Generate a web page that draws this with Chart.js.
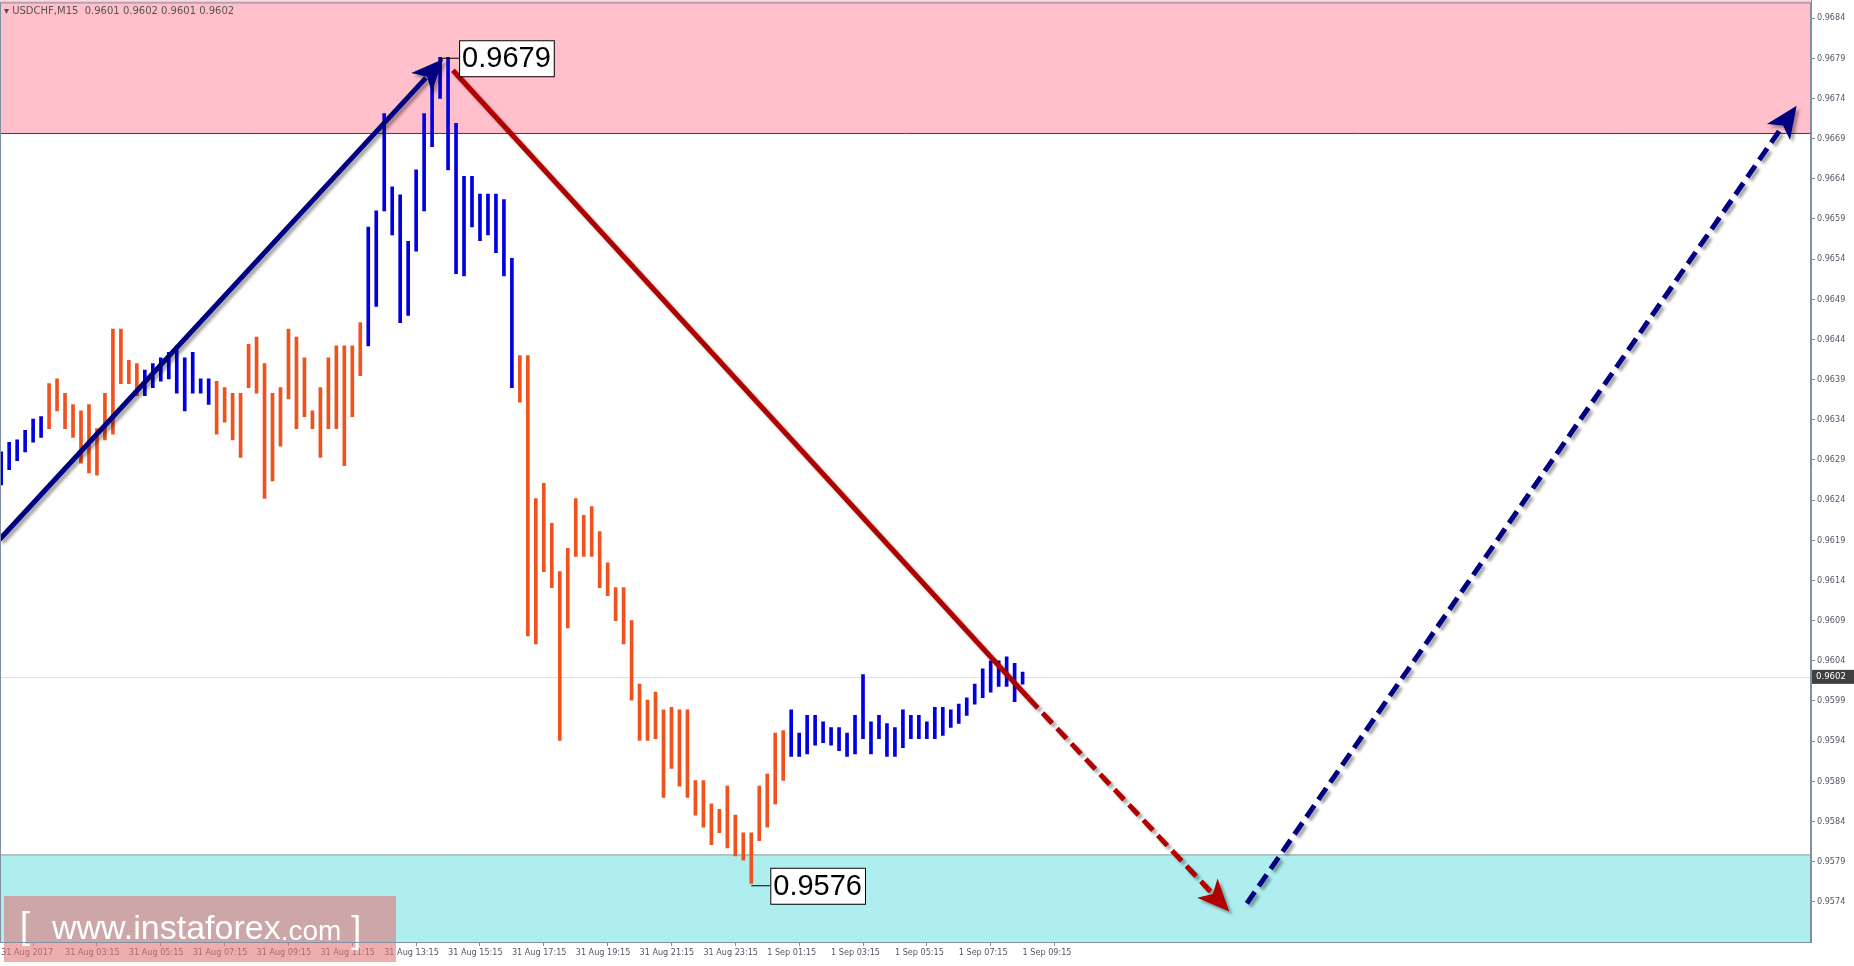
<!DOCTYPE html>
<html>
<head>
<meta charset="utf-8">
<script src="https://cdn.jsdelivr.net/npm/chart.js@4"></script>
<style>
  html, body { margin: 0; padding: 0; background: #fff; overflow: hidden; }
  #wrap { width: 1854px; height: 966px; overflow: hidden; position: relative; }
  #chart { position: absolute; left: 0; top: -7px; }
</style>
</head>
<body>
<div id="wrap"><canvas id="chart" width="1854" height="973"></canvas></div>
<script>
// USDCHF M15 bars, 31 Aug 01:15 onward
const highs = [
  0.96300,0.96312,0.96315,0.96327,0.96341,0.96344,0.96385,0.96391,0.96373,0.96359,
  0.96351,0.96359,0.96329,0.96373,0.96453,0.96453,0.96414,0.96410,0.96402,0.96410,
  0.96417,0.96424,0.96432,0.96417,0.96424,0.96391,0.96391,0.96388,0.96380,0.96373,
  0.96373,0.96434,0.96443,0.96410,0.96373,0.96380,0.96453,0.96443,0.96417,0.96351,
  0.96380,0.96417,0.96432,0.96432,0.96432,0.96461,0.96580,0.96600,0.96721,0.96630,
  0.96620,0.96562,0.96651,0.96721,0.96760,0.96791,0.96791,0.96709,0.96643,0.96643,
  0.96621,0.96621,0.96621,0.96614,0.96541,0.96420,0.96420,0.96242,0.96261,0.96211,
  0.96151,0.96180,0.96242,0.96221,0.96232,0.96201,0.96162,0.96131,0.96131,0.96090,
  0.96011,0.95991,0.96001,0.95979,0.95982,0.95979,0.95979,0.95891,0.95891,0.95862,
  0.95855,0.95884,0.95848,0.95826,0.95826,0.95884,0.95899,0.95950,0.95953,0.95979,
  0.95950,0.95972,0.95972,0.95964,0.95957,0.95957,0.95950,0.95972,0.96023,0.95964,
  0.95972,0.95962,0.95957,0.95979,0.95972,0.95972,0.95964,0.95982,0.95982,0.95979,
  0.95986,0.95994,0.96011,0.96030,0.96040,0.96040,0.96045,0.96037,0.96026
];
const lows = [
  0.96259,0.96278,0.96289,0.96300,0.96312,0.96318,0.96329,0.96351,0.96329,0.96318,
  0.96286,0.96274,0.96271,0.96315,0.96322,0.96385,0.96385,0.96370,0.96370,0.96380,
  0.96388,0.96391,0.96373,0.96351,0.96373,0.96373,0.96359,0.96322,0.96337,0.96315,
  0.96293,0.96380,0.96373,0.96242,0.96264,0.96307,0.96366,0.96329,0.96344,0.96329,
  0.96293,0.96329,0.96329,0.96283,0.96344,0.96395,0.96432,0.96481,0.96600,0.96570,
  0.96461,0.96470,0.96550,0.96600,0.96680,0.96740,0.96651,0.96522,0.96519,0.96580,
  0.96563,0.96570,0.96548,0.96519,0.96380,0.96362,0.96071,0.96061,0.96151,0.96131,
  0.95941,0.96081,0.96170,0.96170,0.96170,0.96131,0.96121,0.96090,0.96061,0.95991,
  0.95941,0.95941,0.95943,0.95870,0.95906,0.95884,0.95870,0.95848,0.95833,0.95811,
  0.95826,0.95807,0.95797,0.95792,0.95763,0.95816,0.95833,0.95862,0.95891,0.95921,
  0.95921,0.95924,0.95935,0.95938,0.95935,0.95928,0.95921,0.95924,0.95943,0.95924,
  0.95943,0.95921,0.95921,0.95932,0.95943,0.95943,0.95943,0.95943,0.95947,0.95957,
  0.95962,0.95972,0.95986,0.95994,0.96001,0.96008,0.96008,0.95989,0.96011
];
// wave colouring: [first bar, last bar] of up-waves drawn blue
const upWaves = [[0, 5], [18, 26], [46, 64], [99, 128]];

const xLabels = ['31 Aug 2017','31 Aug 03:15','31 Aug 05:15','31 Aug 07:15','31 Aug 09:15',
  '31 Aug 11:15','31 Aug 13:15','31 Aug 15:15','31 Aug 17:15','31 Aug 19:15','31 Aug 21:15',
  '31 Aug 23:15','1 Sep 01:15','1 Sep 03:15','1 Sep 05:15','1 Sep 07:15','1 Sep 09:15'];
const yTicks = [0.9574,0.9579,0.9584,0.9589,0.9594,0.9599,0.9604,0.9609,0.9614,0.9619,
  0.9624,0.9629,0.9634,0.9639,0.9644,0.9649,0.9654,0.9659,0.9664,0.9669,0.9674,0.9679,0.9684];

const sellZone = [0.96697, 0.96900];
const buyZone = [0.95600, 0.95799];
const lastPrice = 0.9602;
const peak = { bar: 55, price: 0.9679, text: '0.9679' };
const trough = { bar: 94, price: 0.9576, text: '0.9576' };
// wave arrows: [bar, price] endpoints
const waveUp = [[-0.2, 0.96191], [55.4, 0.96789]];
const waveDown = [[56.6, 0.96775], [128.7, 0.95994]];
const waveDownNext = [[128.7, 0.95994], [153.9, 0.95728]];
const waveUpNext = [[156.1, 0.95738], [225, 0.96731]];

const bars = highs.map((h, i) => ({ x: i, y: [lows[i], h] }));
const barColors = highs.map((h, i) =>
  upWaves.some(w => i >= w[0] && i <= w[1]) ? '#0000E0' : '#F0521E');

const overlay = {
  id: 'overlay',
  beforeDatasetsDraw(chart) {
    const { ctx, chartArea: a, scales: { x, y } } = chart;
    ctx.save();
    ctx.fillStyle = '#FFC0CB';
    let yb = y.getPixelForValue(sellZone[0]);
    ctx.fillRect(a.left, a.top, a.width, yb - a.top);
    ctx.strokeStyle = '#C00000'; ctx.lineWidth = 1;
    ctx.beginPath(); ctx.moveTo(a.left, yb + 0.5); ctx.lineTo(a.right, yb + 0.5); ctx.stroke();
    ctx.fillStyle = '#AFEEEE';
    let yt = y.getPixelForValue(buyZone[1]);
    ctx.fillRect(a.left, yt, a.width, a.bottom - yt);
    ctx.strokeStyle = '#999';
    ctx.beginPath(); ctx.moveTo(a.left, yt + 0.5); ctx.lineTo(a.right, yt + 0.5); ctx.stroke();
    let yp = Math.round(y.getPixelForValue(lastPrice)) + 0.5;
    ctx.strokeStyle = '#E0E0E0';
    ctx.beginPath(); ctx.moveTo(a.left, yp); ctx.lineTo(a.right, yp); ctx.stroke();
    ctx.restore();
  },
  afterDatasetsDraw(chart) {
    const { ctx, chartArea: a, scales: { x, y } } = chart;
    const P = p => [x.getPixelForValue(p[0]), y.getPixelForValue(p[1])];
    ctx.save();
    function arrow(seg, color, dashed, head) {
      const [x0, y0] = P(seg[0]), [x1, y1] = P(seg[1]);
      const ang = Math.atan2(y1 - y0, x1 - x0);
      const hl = 32, hw = 14;
      const ex = head ? x1 - Math.cos(ang) * hl * 0.8 : x1;
      const ey = head ? y1 - Math.sin(ang) * hl * 0.8 : y1;
      ctx.shadowColor = 'rgba(0,0,0,0.35)'; ctx.shadowOffsetX = 3; ctx.shadowOffsetY = 3; ctx.shadowBlur = 3;
      ctx.strokeStyle = color; ctx.lineWidth = 5; ctx.lineCap = 'butt';
      ctx.setLineDash(dashed ? [14, 7] : []);
      ctx.beginPath(); ctx.moveTo(x0, y0); ctx.lineTo(ex, ey); ctx.stroke();
      ctx.setLineDash([]);
      if (head) {
        ctx.fillStyle = color;
        ctx.beginPath();
        ctx.moveTo(x1, y1);
        ctx.lineTo(x1 - Math.cos(ang) * hl - Math.sin(ang) * hw, y1 - Math.sin(ang) * hl + Math.cos(ang) * hw);
        ctx.lineTo(x1 - Math.cos(ang) * hl * 0.75, y1 - Math.sin(ang) * hl * 0.75);
        ctx.lineTo(x1 - Math.cos(ang) * hl + Math.sin(ang) * hw, y1 - Math.sin(ang) * hl - Math.cos(ang) * hw);
        ctx.closePath(); ctx.fill();
      }
      ctx.shadowColor = 'transparent';
    }
    arrow(waveUp, '#000080', false, true);
    arrow(waveDown, '#B00000', false, false);
    arrow(waveDownNext, '#B00000', true, true);
    arrow(waveUpNext, '#000080', true, true);

    function priceBox(m) {
      const bx = x.getPixelForValue(m.bar);
      const by = y.getPixelForValue(m.price);
      ctx.font = '29px "Liberation Sans", Arial, sans-serif';
      const w = ctx.measureText(m.text).width + 6;
      const left = bx + 19, h = 36;
      ctx.strokeStyle = '#000'; ctx.lineWidth = 1;
      ctx.beginPath(); ctx.moveTo(bx, by); ctx.lineTo(left, by); ctx.stroke();
      ctx.fillStyle = '#fff';
      ctx.fillRect(left, by - h / 2, w, h);
      ctx.strokeRect(left + 0.5, by - h / 2 + 0.5, w, h);
      ctx.fillStyle = '#000'; ctx.textBaseline = 'middle'; ctx.textAlign = 'left';
      ctx.fillText(m.text, left + 3, by + 1);
    }
    priceBox(peak);
    priceBox(trough);

    // watermark (canvas is shifted 7px up)
    const off = 7;
    ctx.fillStyle = 'rgba(225,120,120,0.6)';
    ctx.fillRect(4, 896 + off, 392, 66);
    ctx.fillStyle = '#fff';
    ctx.textBaseline = 'middle';
    ctx.font = '36px "Liberation Sans", Arial, sans-serif';
    ctx.fillText('[', 20, 928 + off);
    ctx.font = '34px "Liberation Sans", Arial, sans-serif';
    ctx.fillText('www.instaforex', 52, 930 + off);
    let wx = 52 + ctx.measureText('www.instaforex').width;
    ctx.font = '28px "Liberation Sans", Arial, sans-serif';
    ctx.fillText('.com', wx, 932 + off);
    wx += ctx.measureText('.com').width + 10;
    ctx.font = '36px "Liberation Sans", Arial, sans-serif';
    ctx.fillText(']', wx, 932 + off);

    // header
    ctx.fillStyle = '#555';
    ctx.font = '10px "DejaVu Sans", sans-serif';
    ctx.fillText('\u25BE USDCHF,M15  0.9601 0.9602 0.9601 0.9602', 4, 11 + off);

    // last price tag
    const yp = y.getPixelForValue(lastPrice);
    ctx.fillStyle = '#404040';
    ctx.fillRect(a.right + 1, yp - 7, 42, 14);
    ctx.fillStyle = '#fff';
    ctx.font = '9.5px "DejaVu Sans Condensed", "DejaVu Sans", sans-serif';
    ctx.fillText('0.9602', a.right + 5, yp);

    ctx.strokeStyle = '#8090A0'; ctx.lineWidth = 1;
    ctx.strokeRect(a.left + 0.5, a.top + 2.5, a.width - 1, a.height - 2);
    ctx.restore();
  }
};

new Chart(document.getElementById('chart'), {
  type: 'bar',
  data: {
    datasets: [{
      data: bars,
      backgroundColor: barColors,
      barThickness: 3,
      borderWidth: 0
    }]
  },
  options: {
    responsive: false,
    animation: false,
    layout: { padding: 0 },
    plugins: { legend: { display: false }, tooltip: { enabled: false } },
    scales: {
      x: {
        type: 'linear',
        offset: false,
        min: -0.15,
        max: 226.8,
        afterBuildTicks: s => { s.ticks = xLabels.map((l, k) => ({ value: k * 8 })); },
        afterFit: s => { s.height = 24; },
        grid: { drawOnChartArea: false, tickLength: 4, color: '#8090A0' },
        border: { color: '#8090A0' },
        ticks: {
          align: 'start',
          maxRotation: 0,
          autoSkip: false,
          padding: 1,
          color: '#556',
          font: { family: '"DejaVu Sans Condensed", "DejaVu Sans", sans-serif', size: 9 },
          callback: (v, k) => xLabels[k]
        }
      },
      y: {
        position: 'right',
        min: 0.95690,
        max: 0.96862,
        afterBuildTicks: s => { s.ticks = yTicks.map(v => ({ value: v })); },
        afterFit: s => { s.width = 43; },
        grid: { drawOnChartArea: false, tickLength: 4, color: '#8090A0' },
        border: { color: '#8090A0' },
        ticks: {
          padding: 2,
          color: '#556',
          font: { family: '"DejaVu Sans Condensed", "DejaVu Sans", sans-serif', size: 9 },
          callback: v => v.toFixed(4)
        }
      }
    }
  },
  plugins: [overlay]
});
</script>
</body>
</html>
